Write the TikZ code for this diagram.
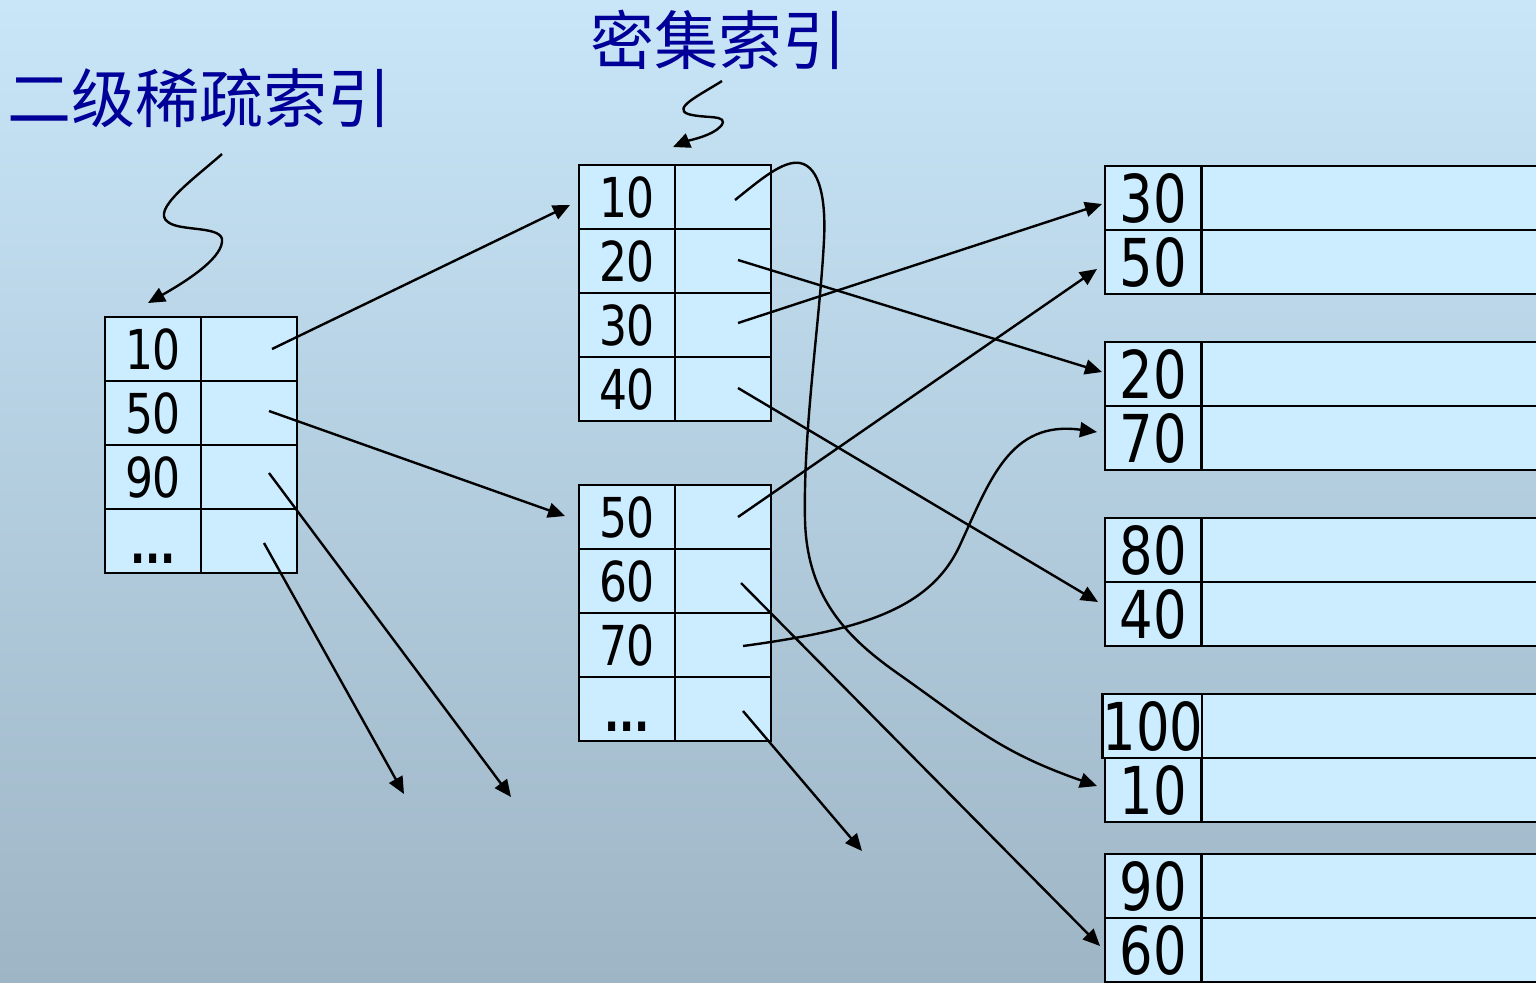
\documentclass[tikz,border=0pt]{standalone}
\usepackage{fontspec}
\newfontfamily\numfont[FakeStretch=0.8]{DejaVu Sans}
\newfontfamily\cjkfont{Noto Sans CJK SC}
\usetikzlibrary{arrows.meta}
\definecolor{cellblue}{RGB}{204,236,255}
\definecolor{titleblue}{RGB}{0,0,153}
\definecolor{bgtop}{RGB}{200,230,248}
\definecolor{bgbot}{RGB}{158,181,197}
\begin{document}
\begin{tikzpicture}[x=0.5pt,y=-0.5pt,
  cell/.style={draw=black, fill=cellblue, line width=1.2pt, minimum width=48pt, minimum height=32pt, inner sep=0pt, font=\numfont\fontsize{27.5pt}{30pt}\selectfont},
  bigcell/.style={cell, font=\numfont\fontsize{33pt}{36pt}\selectfont},
  datacell/.style={draw=black, fill=cellblue, line width=1.2pt, minimum width=170pt, minimum height=32pt, inner sep=0pt, anchor=west},
  dots/.style={anchor=base, inner sep=0pt, font=\numfont\bfseries\fontsize{25pt}{30pt}\selectfont},
  link/.style={line width=1.2pt, -{Triangle[length=8.5pt,width=7.5pt]}},
  title/.style={text=titleblue, font=\cjkfont\fontsize{32pt}{36pt}\selectfont, inner sep=0pt}
]
\fill[top color=bgtop, bottom color=bgbot] (0,0) rectangle (1536,982);
\useasboundingbox (0,0) rectangle (1536,982);

% titles
\node[title] (t1) at (200,98) {二级稀疏索引};
\node[title] (t2) at (718,40) {密集索引};

% left (sparse) index
\node[cell] (lk1) at (153,349) {10}; \node[cell] (lp1) at (249,349) {};
\node[cell] (lk2) at (153,413) {50}; \node[cell] (lp2) at (249,413) {};
\node[cell] (lk3) at (153,477) {90}; \node[cell] (lp3) at (249,477) {};
\node[cell] (lk4) at (153,541) {};   \node[cell] (lp4) at (249,541) {};
\node[dots] (ld) at (153,563) {...};

% middle top (dense) index
\node[cell] (ak1) at (627,197) {10}; \node[cell] (ap1) at (723,197) {};
\node[cell] (ak2) at (627,261) {20}; \node[cell] (ap2) at (723,261) {};
\node[cell] (ak3) at (627,325) {30}; \node[cell] (ap3) at (723,325) {};
\node[cell] (ak4) at (627,389) {40}; \node[cell] (ap4) at (723,389) {};

% middle bottom
\node[cell] (bk1) at (627,517) {50}; \node[cell] (bp1) at (723,517) {};
\node[cell] (bk2) at (627,581) {60}; \node[cell] (bp2) at (723,581) {};
\node[cell] (bk3) at (627,645) {70}; \node[cell] (bp3) at (723,645) {};
\node[cell] (bk4) at (627,709) {};   \node[cell] (bp4) at (723,709) {};
\node[dots] (bd) at (627,731) {...};

% data blocks
\node[bigcell] (r30) at (1153,198) {30};  \node[datacell] (d30) at (1201,198) {};
\node[bigcell] (r50) at (1153,262) {50};  \node[datacell] (d50) at (1201,262) {};
\node[bigcell] (r20) at (1153,374) {20};  \node[datacell] (d20) at (1201,374) {};
\node[bigcell] (r70) at (1153,438) {70};  \node[datacell] (d70) at (1201,438) {};
\node[bigcell] (r80) at (1153,550) {80};  \node[datacell] (d80) at (1201,550) {};
\node[bigcell] (r40) at (1153,614) {40};  \node[datacell] (d40) at (1201,614) {};
\node[bigcell] (r100) at (1153,726) {100}; \node[datacell] (d100) at (1201,726) {};
\node[bigcell] (r10) at (1153,790) {10};  \node[datacell] (d10) at (1201,790) {};
\node[bigcell] (r90) at (1153,886) {90};  \node[datacell] (d90) at (1201,886) {};
\node[bigcell] (r60) at (1153,950) {60};  \node[datacell] (d60) at (1201,950) {};

% connector end points
\coordinate (sl1) at (272,349);  \coordinate (el1) at (570,205);
\coordinate (sl2) at (269,411);  \coordinate (el2) at (565,516);
\coordinate (sl3) at (269,473);  \coordinate (el3) at (511,797);
\coordinate (sl4) at (264,543);  \coordinate (el4) at (404,794);
\coordinate (sa1) at (735,200);  \coordinate (ea1) at (1097,786);
\coordinate (sa2) at (738,260);  \coordinate (ea2) at (1102,372);
\coordinate (sa3) at (738,323);  \coordinate (ea3) at (1102,204);
\coordinate (sa4) at (738,388);  \coordinate (ea4) at (1098,602);
\coordinate (sb1) at (738,517);  \coordinate (eb1) at (1097,269);
\coordinate (sb2) at (741,583);  \coordinate (eb2) at (1100,946);
\coordinate (sb3) at (743,646);  \coordinate (eb3) at (1097,432);
\coordinate (sb4) at (743,711);  \coordinate (eb4) at (862,851);
\coordinate (st1) at (222,154);  \coordinate (et1) at (148,303);
\coordinate (st2) at (722,81);   \coordinate (et2) at (673,147);

% squiggles from titles
\draw[link] (st1) .. controls (195,178) and (150,210) .. (168,222)
  .. controls (180,232) and (225,225) .. (222,242)
  .. controls (220,260) and (185,282) .. (et1);
\draw[link] (st2) .. controls (700,95) and (672,108) .. (688,114)
  .. controls (705,119) and (730,114) .. (721,126)
  .. controls (712,136) and (690,140) .. (et2);

% sparse index links
\draw[link] (sl1) -- (el1);
\draw[link] (sl2) -- (el2);
\draw[link] (sl3) -- (el3);
\draw[link] (sl4) -- (el4);

% dense index links
\draw[link] (sa1) .. controls (760,180) and (783,160) .. (800,163)
  .. controls (820,167) and (826,200) .. (824,240)
  .. controls (820,320) and (803,430) .. (805,520)
  .. controls (807,600) and (850,640) .. (900,675)
  .. controls (975,728) and (1000,752) .. (ea1);
\draw[link] (sa2) -- (ea2);
\draw[link] (sa3) -- (ea3);
\draw[link] (sa4) -- (ea4);
\draw[link] (sb1) -- (eb1);
\draw[link] (sb2) -- (eb2);
\draw[link] (sb3) .. controls (860,630) and (930,610) .. (960,545)
  .. controls (990,480) and (1010,420) .. (eb3);
\draw[link] (sb4) -- (eb4);
\end{tikzpicture}
\end{document}
